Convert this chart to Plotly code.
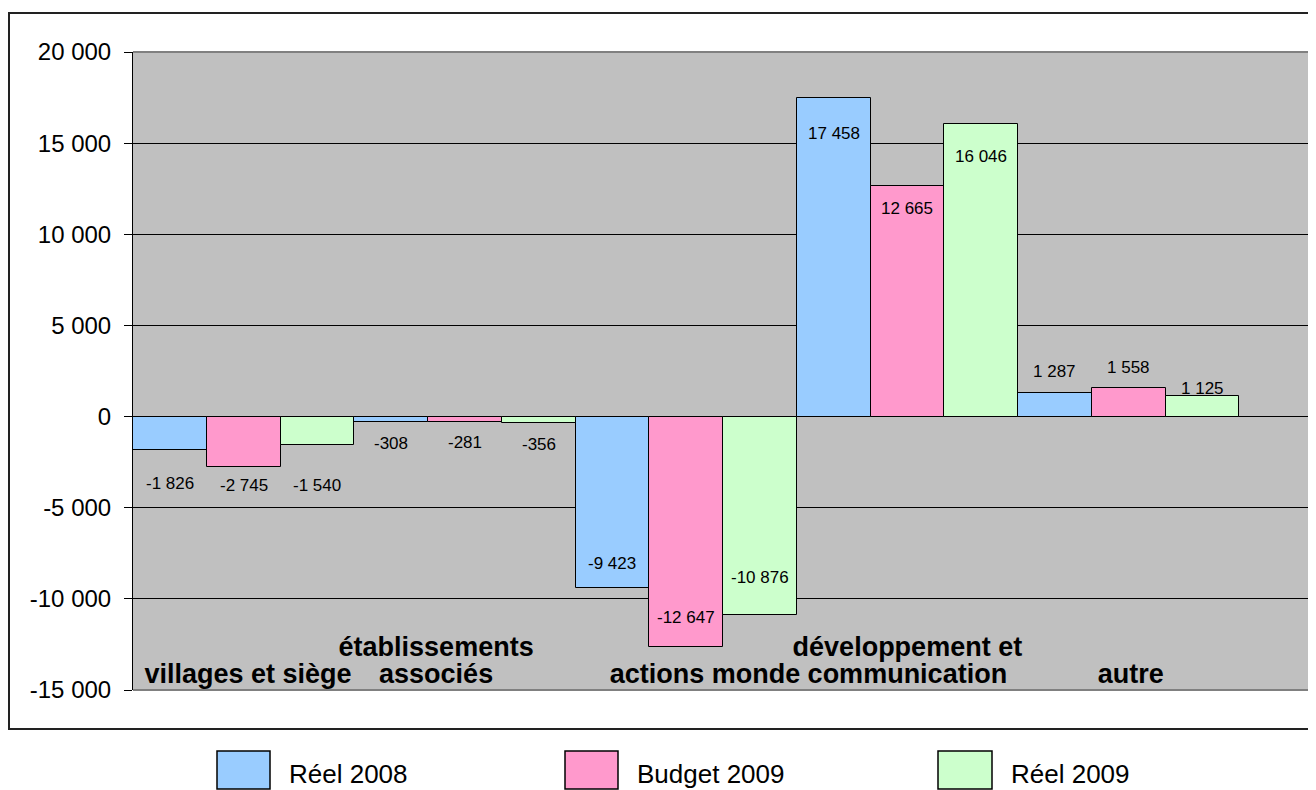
import plotly.graph_objects as go

# ---------------- data ----------------
categories = ["villages et siège", "établissements associés", "actions monde",
              "développement et communication", "autre"]
cat_label_lines = [["villages et siège"], ["établissements", "associés"], ["actions monde"],
                   ["développement et", "communication"], ["autre"]]
series_names = ["Réel 2008", "Budget 2009", "Réel 2009"]
reel_2008 = [-1826, -308, -9423, 17458, 1287]
budget_2009 = [-2745, -281, -12647, 12665, 1558]
reel_2009 = [-1540, -356, -10876, 16046, 1125]
label_2008 = ["-1 826", "-308", "-9 423", "17 458", "1 287"]
label_b2009 = ["-2 745", "-281", "-12 647", "12 665", "1 558"]
label_r2009 = ["-1 540", "-356", "-10 876", "16 046", "1 125"]
y_tickvals = [-15000, -10000, -5000, 0, 5000, 10000, 15000, 20000]
y_ticktext = ["-15 000", "-10 000", "-5 000", "0", "5 000", "10 000", "15 000", "20 000"]

# ---------------- style ----------------
colors = ["#99CCFF", "#FF99CC", "#CCFFCC"]
FONT = "Liberation Sans, Arial, sans-serif"
OFF = 8  # page body margin offset
W, H = 1316 - OFF, 790 - OFF
ML, MR, MT, MB = 133 - OFF, 3, 52 - OFF, 100
plot_h = H - MT - MB
plot_w = W - ML - MR
YMIN, YMAX = -15000, 20000
units_per_px = (YMAX - YMIN) / plot_h

# pixel offsets of data labels from the bar end (positive = up)
label_shift = [
    [-34, -21, 25, -35, 22],
    [-19, -21, 30, -23, 21],
    [-41, -21, 37, -32, 8],
]
# horizontal offsets (category units) of category label text
cat_label_dx = [0.02, -0.13, 0.085, 0.0, 0.01]

series_vals = [reel_2008, budget_2009, reel_2009]
series_labels = [label_2008, label_b2009, label_r2009]
x_idx = list(range(len(categories)))

fig = go.Figure()
for name, vals, col in zip(series_names, series_vals, colors):
    fig.add_trace(go.Bar(
        x=x_idx, y=vals, name=name,
        marker=dict(color=col, line=dict(color="black", width=1)),
        showlegend=False, hoverinfo="skip",
    ))

# data labels
annotations = []
bar_offsets = [-1 / 3, 0, 1 / 3]
for s, (vals, labs) in enumerate(zip(series_vals, series_labels)):
    for i, (v, t) in enumerate(zip(vals, labs)):
        annotations.append(dict(
            x=i + bar_offsets[s], y=v, xref="x", yref="y", text=t,
            showarrow=False, yshift=label_shift[s][i], xanchor="center", yanchor="middle",
            font=dict(family=FONT, size=17, color="black"),
        ))

# category labels (clipped text inside plot area)
cx, cy, ct = [], [], []
bottom_line_px = 14   # centre of last line above plot bottom
line_gap_px = 27
for i, lines in enumerate(cat_label_lines):
    n = len(lines)
    for k, line in enumerate(lines):
        px_above = bottom_line_px + (n - 1 - k) * line_gap_px
        cx.append(i + cat_label_dx[i])
        cy.append(YMIN + px_above * units_per_px)
        ct.append(line)
fig.add_trace(go.Scatter(
    x=cx, y=cy, text=ct, mode="text", textposition="middle center",
    textfont=dict(family=FONT, size=27, color="black", weight="bold"),
    cliponaxis=True, showlegend=False, hoverinfo="skip",
))

# helpers: screen pixel (in the window) -> paper coordinates
def px_x(p):
    return (p - OFF - ML) / plot_w

def px_y(p):
    return (H - MB - (p - OFF)) / plot_h

shapes = [
    # outer chart border
    dict(type="rect", xref="paper", yref="paper", x0=px_x(9), x1=px_x(1320), y0=px_y(13), y1=px_y(729),
         line=dict(color="#222222", width=2), layer="above"),
    # plot area border (top / right / bottom)
    dict(type="line", xref="paper", yref="paper", x0=0, x1=1, y0=1, y1=1,
         line=dict(color="#808080", width=2), layer="above"),
    dict(type="line", xref="paper", yref="paper", x0=1, x1=1, y0=0, y1=1,
         line=dict(color="#808080", width=2), layer="above"),
    dict(type="line", xref="paper", yref="paper", x0=0, x1=1, y0=0, y1=0,
         line=dict(color="#808080", width=2), layer="above"),
]

# manual legend
legend_box_px = [(217, 270), (565, 618), (938, 992)]
for (x0, x1), name, col in zip(legend_box_px, series_names, colors):
    shapes.append(dict(type="rect", xref="paper", yref="paper",
                       x0=px_x(x0), x1=px_x(x1), y0=px_y(751), y1=px_y(789),
                       fillcolor=col, line=dict(color="black", width=1.5)))
    annotations.append(dict(x=px_x(x1 + 17), y=px_y(774), xref="paper", yref="paper",
                            text=name, showarrow=False, xanchor="left", yanchor="middle",
                            font=dict(family=FONT, size=26, color="black")))

fig.update_layout(
    width=W, height=H,
    margin=dict(l=ML, r=MR, t=MT, b=MB, pad=0),
    paper_bgcolor="white", plot_bgcolor="#C0C0C0",
    barmode="group", bargap=0, bargroupgap=0,
    font=dict(family=FONT, color="black"),
    shapes=shapes, annotations=annotations,
    showlegend=False,
)
fig.update_xaxes(range=[-0.5, len(categories) - 0.5 + 1 / 3], showticklabels=False,
                 showgrid=False, zeroline=False, showline=False, fixedrange=True)
fig.update_yaxes(range=[YMIN, YMAX], tickvals=y_tickvals, ticktext=y_ticktext,
                 showgrid=True, gridcolor="black", gridwidth=1, zeroline=False,
                 showline=True, linecolor="black", linewidth=1,
                 ticks="outside", ticklen=8, tickcolor="black",
                 ticklabelstandoff=8,
                 tickfont=dict(family=FONT, size=24, color="black"), fixedrange=True)

fig.write_html("out.html")
